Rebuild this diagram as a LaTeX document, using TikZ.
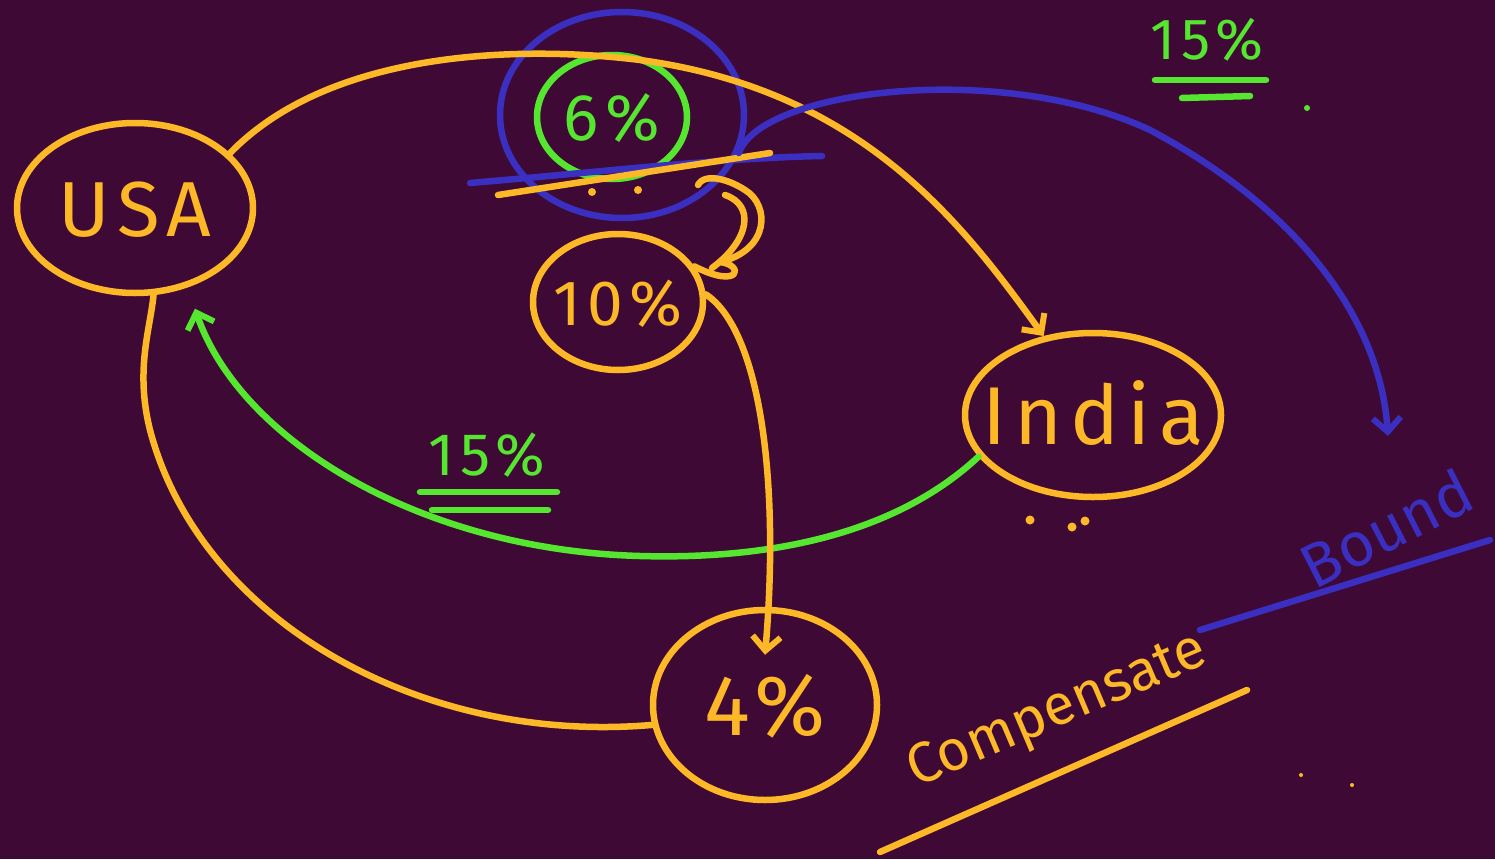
\documentclass[tikz,border=0pt]{standalone}
\usepackage{fontspec}
\setmainfont{Fira Sans}
\usetikzlibrary{shapes.geometric,arrows.meta,calc}
\definecolor{bg}{HTML}{3E0A35}
\definecolor{yl}{HTML}{FDB827}
\definecolor{gr}{HTML}{55E62F}
\definecolor{bl}{HTML}{3A2FC0}
\newcommand{\inring}[1]{\smash{\makebox[0pt]{\raisebox{-.36em}{#1}}}}
\begin{document}
\begin{tikzpicture}[x=1pt,y=-1pt,line cap=round,line join=round,
  ring/.style={ellipse,draw,line width=6.5pt,inner sep=0pt},
  pen/.style={line width=6.5pt},
  tip/.style={-{Straight Barb[length=14pt,width=28pt,line width=6pt]}},
  fs/.style={font=\fontsize{#1}{#1}\selectfont\addfontfeature{LetterSpace=10}}]
\fill[bg] (0,0) rectangle (1495,859);
\useasboundingbox (0,0) rectangle (1495,859);

% nodes
\node[ring,yl,minimum width=236pt,minimum height=170pt,fs=78] (usa) at (135,208) {\inring{USA}};
\node[ring,bl,minimum width=244pt,minimum height=206pt] (bluering) at (622,115) {};
\node[ring,gr,minimum width=150pt,minimum height=124pt,fs=66] (six) at (612,117) {\inring{6\%}};
\node[ring,yl,minimum width=170pt,minimum height=136pt,fs=64] (ten) at (618,302) {\inring{10\%}};
\node[ring,yl,minimum width=256pt,minimum height=164pt,fs=82] (india) at (1093,415) {\inring{India}};
\node[ring,yl,minimum width=224pt,minimum height=190pt,fs=86] (m) at (765,705) {\inring{4\%}};

% labels
\node[gr,fs=58] (p15a) at (1207,40) {15\%};
\node[gr,fs=60] (p15b) at (487,455) {15\%};
\node[yl,rotate=23,font=\fontsize{57}{57}\selectfont] (comp) at (1058,712) {Compensate};
\node[bl,rotate=27,font=\fontsize{62}{62}\selectfont] (bound) at (1386,528) {Bound};
\coordinate (bt) at (1388,436);

% underlines and marks
\draw[pen,bl] (470,183) .. controls (600,172) and (720,158) .. (822,156);
\draw[pen,yl] (498,195) -- (770,153);
\fill[yl] (592,192) circle (4pt) (638,190) circle (4pt);
\draw[pen,gr] (1155,80) -- (1266,80);
\draw[pen,gr] (1182,98) -- (1250,96);
\fill[gr] (1307,108) circle (3pt);
\draw[pen,gr] (420,492) -- (557,492);
\draw[pen,gr] (432,510) -- (548,510);
\fill[yl] (1030,520) circle (4.5pt) (1072,527) circle (4.5pt) (1085,521) circle (4.5pt);
\fill[yl] (1301,775) circle (2pt) (1352,785) circle (2pt);
\draw[pen,yl] (880,852) -- (1247,690);
\draw[pen,bl] (1200,630) -- (1490,540);

% connectors
\draw[pen,yl,tip] (usa.30) .. controls (330,50) and (520,45) .. (640,60)
  .. controls (860,90) and (960,220) .. (india.122);
\draw[pen,bl,tip] (bluering.-18) .. controls (760,90) and (1000,60) .. (1150,130)
  .. controls (1300,210) and (1380,320) .. (bt);
\draw[pen,gr,tip] (india.200) .. controls (900,530) and (780,560) .. (640,556)
  .. controls (420,550) and (240,440) .. ([yshift=-24pt]usa.-52);
\draw[pen,yl,tip] (ten.5) .. controls (760,330) and (780,480) .. ([yshift=-48pt]m.north);
\draw[pen,yl] (m.190) .. controls (420,745) and (200,620) .. (150,430)
  .. controls (135,370) and (150,330) .. (usa.-78);
\draw[pen,yl] (ten.25) .. controls (740,290) and (745,265) .. (720,262)
  .. controls (770,250) and (770,205) .. (745,190)
  .. controls (730,180) and (705,172) .. (698,185);
\draw[pen,yl] (712,268) .. controls (750,240) and (755,205) .. (725,195);
\end{tikzpicture}
\end{document}
